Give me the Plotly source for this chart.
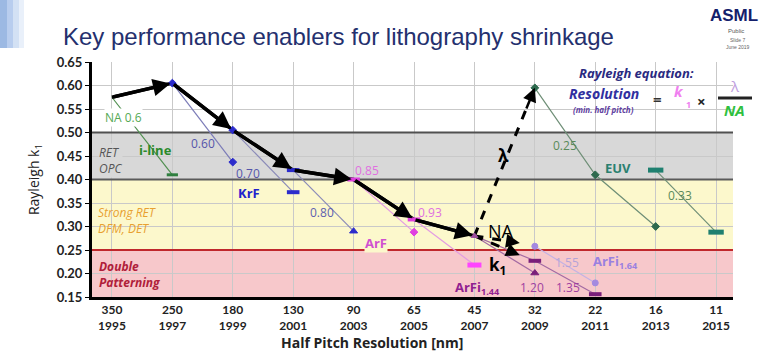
import plotly.graph_objects as go

# ---------------- data ----------------
years = [1995, 1997, 1999, 2001, 2003, 2005, 2007, 2009, 2011, 2013, 2015]
half_pitch = ["350", "250", "180", "130", "90", "65", "45", "32", "22", "16", "11"]
y_ticks = [0.15, 0.20, 0.25, 0.30, 0.35, 0.40, 0.45, 0.50, 0.55, 0.60, 0.65]

# main k1 trend (thick black arrows)
trend_years = [1995, 1997, 1999, 2001, 2003, 2005, 2007]
trend_k1 = [0.575, 0.605, 0.505, 0.42, 0.40, 0.315, 0.28]

# NA lines per wavelength
iline_years = [1995, 1997];            iline_k1 = [0.575, 0.41]
krf060_years = [1997, 1999];           krf060_k1 = [0.605, 0.437]
krf070_years = [1999, 2001];           krf070_k1 = [0.505, 0.373]
krf080_years = [2001, 2003];           krf080_k1 = [0.42, 0.29]
arf085_years = [2003, 2005];           arf085_k1 = [0.40, 0.288]
arf093_years = [2005, 2007];           arf093_k1 = [0.315, 0.218]
arfi120_years = [2007, 2009];          arfi120_k1 = [0.28, 0.201]
arfi135_years = [2007, 2009, 2011];    arfi135_k1 = [0.28, 0.227, 0.156]
arfi155_years = [2009, 2011];          arfi155_k1 = [0.258, 0.18]
euv025_years = [2009, 2011, 2013];     euv025_k1 = [0.595, 0.41, 0.30]
euv033_years = [2013, 2015];           euv033_k1 = [0.42, 0.288]

# dashed "lambda / NA / k1" arrows from the 2007 node
lam_years = [2007, 2009];   lam_k1 = [0.28, 0.595]
na_years = [2007, 2008.5];  na_k1 = [0.28, 0.265]
k1_years = [2007, 2008.5];  k1_k1 = [0.28, 0.239]

# band limits
band_ret = [0.40, 0.50]
band_strong = [0.25, 0.40]
band_dp = [0.15, 0.25]

# ---------------- geometry helpers (pixel -> paper) ----------------
W, H = 773, 352
L, R, T, B = 92, 40, 62, 55
PW, PH = W - L - R, H - T - B


def px(xp, yp):
    return (xp - L) / PW, (H - B - yp) / PH


fig = go.Figure()

# thin NA lines
def thin(xs, ys, color, width=1.2):
    fig.add_trace(go.Scatter(x=xs, y=ys, mode="lines", line=dict(color=color, width=width),
                             hoverinfo="skip", showlegend=False))

thin(iline_years, iline_k1, "#4f8f4f")
thin(krf060_years, krf060_k1, "#7c7cb8")
thin(krf070_years, krf070_k1, "#8a8ab8")
thin(krf080_years, krf080_k1, "#8a8ab8")
thin(arf085_years, arf085_k1, "#e39be3")
thin(arf093_years, arf093_k1, "#e39be3")
thin(arfi120_years, arfi120_k1, "#a36aa3")
thin(arfi135_years, arfi135_k1, "#a36aa3")
thin(arfi155_years, arfi155_k1, "#c4b2e4")
thin(euv025_years, euv025_k1, "#6f8f77")
thin(euv033_years, euv033_k1, "#6f8f77")

# dashed arrows
for xs, ys in [(lam_years, lam_k1), (na_years, na_k1), (k1_years, k1_k1)]:
    fig.add_trace(go.Scatter(x=[xs[0], xs[0] + (xs[1] - xs[0]) * 0.9],
                             y=[ys[0], ys[0] + (ys[1] - ys[0]) * 0.9],
                             mode="lines", line=dict(color="black", width=3, dash="dash"),
                             hoverinfo="skip", showlegend=False))
    fig.add_annotation(x=xs[1], y=ys[1], ax=xs[0] + (xs[1] - xs[0]) * 0.85,
                       ay=ys[0] + (ys[1] - ys[0]) * 0.85, xref="x", yref="y",
                       axref="x", ayref="y", showarrow=True, arrowhead=2,
                       arrowsize=1.1, arrowwidth=2.5, arrowcolor="black", text="")

# thick black trend arrows
fig.add_trace(go.Scatter(x=trend_years, y=trend_k1, mode="lines",
                         line=dict(color="black", width=3.5), hoverinfo="skip", showlegend=False))
for i in range(len(trend_years) - 1):
    fig.add_annotation(x=trend_years[i + 1], y=trend_k1[i + 1],
                       ax=trend_years[i], ay=trend_k1[i], xref="x", yref="y",
                       axref="x", ayref="y", showarrow=True, arrowhead=2,
                       arrowsize=1.0, arrowwidth=3.5, arrowcolor="black", text="", standoff=2)

# markers
def marks(xs, ys, symbols, color, size=7, lw=1):
    fig.add_trace(go.Scatter(x=xs, y=ys, mode="markers",
                             marker=dict(symbol=symbols, size=size, color=color,
                                         line=dict(color=color, width=lw)),
                             hoverinfo="skip", showlegend=False))

marks([iline_years[1]], [iline_k1[1]], "line-ew", "#2f7f3f", 8, 3)
marks([krf060_years[0], krf060_years[1]], [krf060_k1[0], krf060_k1[1]], "diamond", "#2c2ccc", 6)
marks([krf070_years[0]], [krf070_k1[0]], "diamond", "#2c2ccc", 6)
marks([krf070_years[1], krf080_years[0]], [krf070_k1[1], krf080_k1[0]], "line-ew", "#2c2ccc", 9, 4)
marks([krf080_years[1]], [krf080_k1[1]], "triangle-up", "#2c2ccc", 7)
marks([arf085_years[0], arf093_years[0]], [arf085_k1[0], arf093_k1[0]], "line-ew", "#e040e0", 9, 4)
marks([arf085_years[1]], [arf085_k1[1]], "diamond", "#e040e0", 6)
marks([arf093_years[1]], [arf093_k1[1]], "line-ew", "#ff44ff", 10, 5)
marks([arfi120_years[0]], [arfi120_k1[0]], "triangle-up", "#a050a0", 6)
marks([arfi120_years[1]], [arfi120_k1[1]], "triangle-up", "#7a1f7a", 7)
marks(arfi135_years[1:], arfi135_k1[1:], "line-ew", "#7a1f7a", 9, 4)
marks(arfi155_years, arfi155_k1, "circle", "#a48ae0", 6)
marks(euv025_years, euv025_k1, "diamond", "#2e6a4e", 6)
marks(euv033_years, euv033_k1, "line-ew", "#1f8070", 11, 5)

# ---------------- background bands ----------------
x0, x1 = years[0] - 0.66, years[-1] + 0.56
fig.add_shape(type="rect", xref="x", yref="y", x0=x0, x1=x1, y0=band_ret[0], y1=band_ret[1],
              fillcolor="#d8d8d8", line_width=0, layer="below")
fig.add_shape(type="rect", xref="x", yref="y", x0=x0, x1=x1, y0=band_strong[0], y1=band_strong[1],
              fillcolor="#fcf8cc", line_width=0, layer="below")
fig.add_shape(type="rect", xref="x", yref="y", x0=x0, x1=x1, y0=band_dp[0], y1=band_dp[1],
              fillcolor="#f7c8cb", line_width=0, layer="below")
for yv, col in [(band_ret[1], "#505050"), (band_ret[0], "#5a5a5a"), (band_strong[0], "#c0282c")]:
    fig.add_shape(type="line", xref="x", yref="y", x0=x0, x1=x1, y0=yv, y1=yv,
                  line=dict(color=col, width=2), layer="between")

# ---------------- text labels ----------------
def lab(text, xp, yp, color, size=12, xanchor="center", bg=None, family="Open Sans", align="center"):
    x, y = px(xp, yp)
    fig.add_annotation(x=x, y=y, xref="paper", yref="paper", text=text, showarrow=False,
                       xanchor=xanchor, yanchor="middle", align=align,
                       font=dict(family=family, size=size, color=color),
                       bgcolor=bg, borderpad=0)

lab("NA 0.6", 123, 117, "#55a955", 12, bg="white")
lab("<b>i-line</b>", 155, 150, "#2a8a2a", 13)
lab("<i>RET<br>OPC</i>", 98, 160, "#555555", 12, xanchor="left", align="left", bg="#d8d8d8")
lab("0.60", 203, 143, "#5555aa", 12)
lab("0.70", 248, 173, "#5555aa", 12)
lab("<b>KrF</b>", 249, 193, "#2222cc", 13)
lab("0.80", 322, 213, "#6060b0", 12)
lab("0.85", 367, 170, "#e070e0", 12)
lab("0.93", 430, 213, "#e070e0", 12)
lab("<b>ArF</b>", 376, 243, "#d050d0", 13, bg="#fcf8cc")
lab("<b>ArFi<sub>1.44</sub></b>", 478, 288, "#902090", 13)
lab("<b>k<sub>1</sub></b>", 497, 265, "black", 17)
lab("NA", 501, 231, "black", 18)
lab("<b>λ</b>", 503, 155, "black", 17)
lab("1.20", 532, 287, "#a040a0", 12)
lab("1.35", 568, 287, "#a040a0", 12)
lab("1.55", 567, 262, "#b4a4d8", 12)
lab("<b>ArFi<sub>1.64</sub></b>", 615, 262, "#9a80e0", 13)
lab("0.25", 565, 145, "#5a8a5a", 12)
lab("<b>EUV</b>", 618, 168, "#2a8070", 13)
lab("0.33", 680, 195, "#5a8a5a", 12)
lab("<i>Strong RET<br>DFM, DET</i>", 97, 220, "#e8a030", 12, xanchor="left", align="left")
lab("<b><i>Double<br>Patterning</i></b>", 98, 274, "#b0203a", 12, xanchor="left", align="left")

# Rayleigh equation box
lab("<b><i>Rayleigh equation:</i></b>", 636, 73, "#2a2a80", 13)
lab("<b><i>Resolution</i></b>", 604, 93, "#3030a0", 14)
lab("<b><i>(min. half pitch)</i></b>", 603, 109, "#6040a0", 8)
lab("<b>=</b>", 657, 99, "#333333", 15)
lab("<b><i>k</i></b>", 679, 91, "#f080f0", 15)
lab("<b>1</b>", 688, 104, "#f080f0", 9)
lab("<b>×</b>", 701, 101, "#222222", 15)
lab("λ", 735, 86, "#c0a0e0", 15)
lab("<b><i>NA</i></b>", 734, 110, "#30c040", 15)
fx0, fy0 = px(718, 98)
fx1, _ = px(752, 98)
fig.add_shape(type="line", xref="paper", yref="paper", x0=fx0, x1=fx1, y0=fy0, y1=fy0,
              line=dict(color="#222222", width=3))

# title, logo, decoration
lab("Key performance enablers for lithography shrinkage", 62, 37, "#24306e", 24,
    xanchor="left", family="Liberation Sans")
lab("<b>ASML</b>", 734, 16, "#14206b", 17, family="Liberation Sans")
lab("Public", 736, 31, "#555555", 6, family="Liberation Sans")
lab("Slide 7<br>June 2019", 738, 44, "#666666", 5, family="Liberation Sans")
for (a, b, col) in [(0, 7, "#9cb9e3"), (7, 13, "#b8cdee"), (13, 19, "#d3e1f4"), (19, 24, "#e9f0fa")]:
    xa, ya = px(a, 0)
    xb, yb = px(b, 48)
    fig.add_shape(type="rect", xref="paper", yref="paper", x0=xa, x1=xb, y0=yb, y1=ya,
                  fillcolor=col, line_width=0)

# axis titles
lab("<b>Half Pitch Resolution [nm]</b>", 372, 342, "#222222", 14)

fig.update_layout(
    width=W, height=H, margin=dict(l=L, r=R, t=T, b=B),
    paper_bgcolor="white", plot_bgcolor="white", showlegend=False,
    font=dict(family="Open Sans", color="#222222"),
)
fig.update_xaxes(range=[x0, x1], tickvals=years,
                 ticktext=[f"{h}<br>{y}" for h, y in zip(half_pitch, years)],
                 tickfont=dict(family="Lato", size=12, color="#222222", weight="bold"),
                 showgrid=True, gridcolor="#c9c9c9", gridwidth=1, zeroline=False,
                 showline=True, linecolor="black", linewidth=3, ticks="")
fig.update_yaxes(range=[0.15, 0.65], tickvals=y_ticks, tickformat=".2f",
                 tickfont=dict(family="Lato", size=13, color="#222222", weight="bold"),
                 showgrid=True, gridcolor="#c9c9c9", gridwidth=1, zeroline=False,
                 showline=True, linecolor="black", linewidth=3, ticks="outside",
                 ticklen=4, tickcolor="black",
                 title=dict(text="Rayleigh k<sub>1</sub>", standoff=14,
                            font=dict(family="Open Sans", size=14, color="#222222")))

fig.write_html("out.html")
